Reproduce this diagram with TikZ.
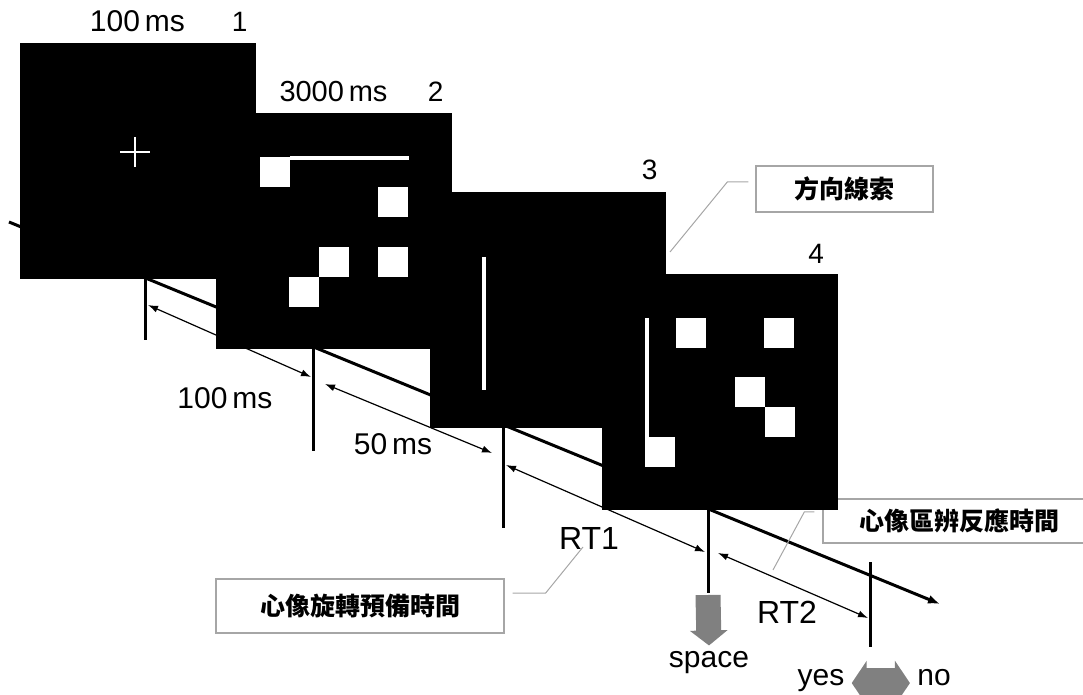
\documentclass[tikz,border=0pt]{standalone}
\usepackage{fontspec}
\setmainfont{Liberation Sans}
\newfontfamily\cjk{Noto Sans CJK TC}
\usetikzlibrary{
  arrows.meta,
  positioning,
  calc
}

\begin{document}
\begin{tikzpicture}[
    x=0.5pt,y=-0.5pt,
    screen/.style={
    fill=black,
    minimum width=118pt,
    minimum height=118pt,
    inner sep=0pt
    },
    cell/.style={fill=white},
    whitebar/.style={draw=white,line width=2pt},
    timeline/.style={line width=1.5pt,-{Latex[length=6pt,width=4.5pt]}},
    tickline/.style={line width=1.5pt},
    interval/.style={line width=0.6pt,{Latex[length=5pt,width=3.5pt]}-{Latex[length=5pt,width=3.5pt]}},
    notebox/.style={
    draw=gray!70,
    line width=0.7pt,
    fill=white,
    inner sep=0pt,
    align=center,
    font=\cjk\bfseries\fontsize{12.5}{14}\selectfont
    },
    leader/.style={draw=gray!70,line width=0.5pt},
    lbl/.style={inner sep=0pt,font=\fontsize{15}{18}\selectfont},
    num/.style={inner sep=0pt,font=\fontsize{14}{16}\selectfont},
    press/.style={draw=gray,line width=12.5pt,-{Triangle[width=18.5pt,length=7.5pt]}},
    choice/.style={draw=gray,line width=15pt,{Triangle[width=22pt,length=7.5pt]}-{Triangle[width=22pt,length=7.5pt]}}
    ]
    
    \useasboundingbox (0,0) rectangle (1083,695);
    
    % time axis, ticks and intervals
    \coordinate (t0) at (9,222);
    \coordinate (tend) at (940,604);
    \draw[timeline] (t0) -- (tend);
    
    \foreach \x/\a/\b in {145/270/340, 313/340/451, 503/420/528, 708/500/593}
    \draw[tickline] (\x,\a) -- (\x,\b);
    \coordinate (k4) at (708,595);
    \coordinate (k5) at (870,562);
    \draw[tickline] (k5) -- (870,647);
    
    \draw[interval] (148,305) -- (311,377);
    \draw[interval] (325,384) -- (492,453);
    \draw[interval] (506,465) -- (705,552);
    \draw[interval] (718,553) -- (868,618);
    
    % notes
    \node[notebox,minimum width=88.5pt,minimum height=23pt]
    (cue) at (844.5,189) {方向線索};
    
    \node[notebox,minimum width=144pt,minimum height=27pt]
    (prep) at (360,606) {心像旋轉預備時間};
    
    \node[notebox,minimum width=136pt,minimum height=22pt]
    (disc) at (959,521) {心像區辨反應時間};
    
    \coordinate (cuept) at (670,252);
    \coordinate (rt1pt) at (583,547);
    \coordinate (rt2pt) at (773,570);
    \draw[leader] ($(cue.west)+(-7,-7)$) -- ++(-21,0) -- (cuept);
    \draw[leader] ($(prep.east)+(8,-13)$) -- ++(33,0) -- (rt1pt);
    \draw[leader] ($(disc.west)+(-8,-9)$) -- ++(-10,0) -- (rt2pt);
    
    % screens
    \node[screen] (s1) at (137.5,161) {};
    \draw[white,line width=1pt] (120,152) -- (150,152) (135,137) -- (135,167);
    
    \node[screen] (s2) at (333.5,231.5) {};
    \foreach \x/\y in {260/157, 378/187, 378/247, 319/247, 289/277}
    \fill[cell] (\x,\y) rectangle ++(30,30);
    \draw[whitebar] (290,158) -- (409,158);
    
    \node[screen] (s3) at (547.5,310) {};
    \draw[whitebar] (484,257) -- (484,390);
    
    \node[screen] (s4) at (720,392) {};
    \foreach \x/\y in {676/318, 764/318, 735/377, 765/407, 645/437}
    \fill[cell] (\x,\y) rectangle ++(30,30);
    \draw[whitebar] (647,318) -- (647,437);
    
    % labels
    \node[lbl,above=5pt of s1.north] (d1) {100\,ms};
    \node[lbl,above=5.5pt of s2.north,font=\fontsize{14.5}{17}\selectfont]
    (d2) {3000\,ms};
    \node[num,above left=5.5pt and 4pt of s1.north east] (n1) {1};
    \node[num,above left=5.5pt and 4pt of s2.north east] (n2) {2};
    \node[num,above left=5.5pt and 4pt of s3.north east] (n3) {3};
    \node[num,above left=5pt and 7pt of s4.north east] (n4) {4};
    
    \node[lbl] (w1) at (225,398) {100\,ms};
    \node[lbl] (w2) at (393,444) {50\,ms};
    \node[lbl,font=\fontsize{16}{19}\selectfont] (rt1) at (589,538) {RT1};
    \node[lbl,font=\fontsize{16}{19}\selectfont] (rt2) at (787,612) {RT2};
    
    % responses
    \node[lbl,anchor=base] (key) at (709,667) {space};
    \node[lbl,anchor=base] (yes) at (821,685) {yes};
    \node[lbl,anchor=base] (no) at (934,685) {no};
    
    \draw[press] (k4) -- ([yshift=2.5pt]key.north);
    \draw[choice,shorten <=3.5pt,shorten >=3.5pt]
    ([yshift=-1.5pt]yes.east) -- ([yshift=-1.5pt]yes.east -| no.west);
    
    \end{tikzpicture}
\end{document}
